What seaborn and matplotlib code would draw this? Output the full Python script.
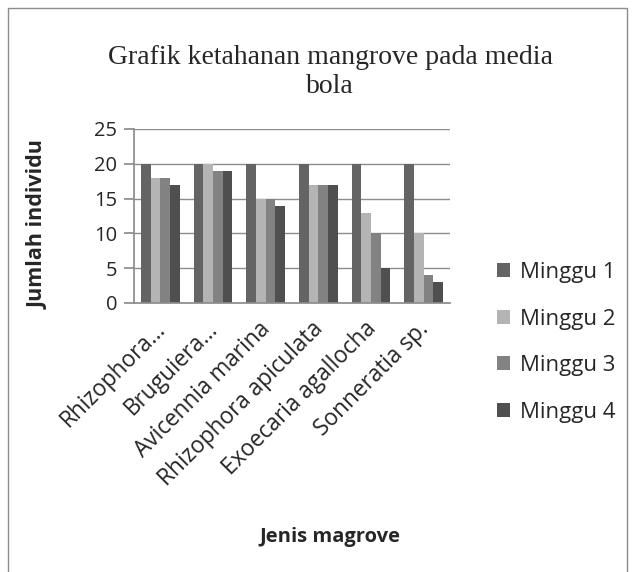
import matplotlib
matplotlib.use("Agg")
import matplotlib.pyplot as plt
import matplotlib.transforms as mtransforms
import seaborn as sns
import pandas as pd
from matplotlib.patches import Rectangle

categories = ["Rhizophora\u2026", "Bruguiera\u2026", "Avicennia marina",
              "Rhizophora apiculata", "Exoecaria agallocha", "Sonneratia sp."]
series_names = ["Minggu 1", "Minggu 2", "Minggu 3", "Minggu 4"]
minggu1 = [20, 20, 20, 20, 20, 20]
minggu2 = [18, 20, 15, 17, 13, 10]
minggu3 = [18, 19, 15, 17, 10, 4]
minggu4 = [17, 19, 14, 17, 5, 3]
yticks = [0, 5, 10, 15, 20, 25]

rows = []
for name, vals in zip(series_names, [minggu1, minggu2, minggu3, minggu4]):
    for c, v in zip(categories, vals):
        rows.append({"Jenis": c, "Minggu": name, "Jumlah": v})
df = pd.DataFrame(rows)

sns.set_theme(style="white")
plt.rcParams['font.family'] = ['Open Sans', 'DejaVu Sans']

fig = plt.figure(figsize=(6.35, 5.72), dpi=100)
ax = fig.add_axes([134/635, 1-303/572, (450-134)/635, (303-129)/572])

palette = ["#646464", "#b4b4b4", "#828282", "#4f4f4f"]
sns.barplot(data=df, x="Jenis", y="Jumlah", hue="Minggu", palette=palette,
            width=0.73, ax=ax, saturation=1, legend=True, linewidth=0,
            edgecolor="none")

ax.set_ylim(0, 25)
ax.set_yticks(yticks)
ax.set_yticklabels([str(t) for t in yticks], fontsize=14.5)
ax.yaxis.grid(True, color="#8c8c8c", linewidth=1)
ax.set_axisbelow(True)
for s in ["top", "right"]:
    ax.spines[s].set_visible(False)
ax.spines["left"].set_color("#8c8c8c")
ax.spines["bottom"].set_color("#8c8c8c")
ax.tick_params(axis="y", left=True, length=7, color="#8c8c8c", pad=5)
ax.tick_params(axis="x", bottom=False, pad=4)
offset = mtransforms.ScaledTranslation(-7/100, 0, fig.dpi_scale_trans)
for lab in ax.get_xticklabels():
    lab.set_rotation(45)
    lab.set_ha("right")
    lab.set_rotation_mode("anchor")
    lab.set_fontsize(16.3)
    lab.set_transform(lab.get_transform() + offset)

ax.set_xlabel("Jenis magrove", fontsize=14.5, fontweight="bold", labelpad=0)
ax.xaxis.set_label_coords(0.62, -1.29)
ax.set_ylabel("Jumlah individu", fontsize=15.5, fontweight="bold")
ax.yaxis.set_label_coords(-0.27, 0.45)

fig.text(330/635, 1-72/572, "Grafik ketahanan mangrove pada media\nbola",
         ha="center", va="center", fontsize=20, family="Liberation Serif",
         linespacing=1.2)

leg = ax.legend(loc="center left", bbox_to_anchor=(1.085, -0.227), frameon=False,
                fontsize=16, handlelength=0.6, handleheight=0.6,
                labelspacing=1.15, handletextpad=0.45)

fig.patches.append(Rectangle((8/635, -0.01), 619/635, 1-8/572 + 0.01, transform=fig.transFigure,
                             fill=False, edgecolor="#8c8c8c", linewidth=1))

fig.savefig("out.png", dpi=100)
